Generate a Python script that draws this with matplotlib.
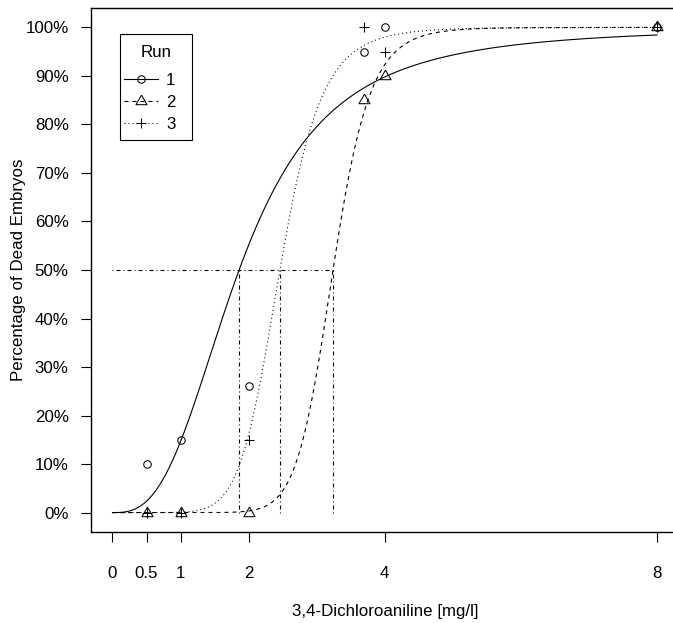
import numpy as np
import matplotlib
matplotlib.use("Agg")
import matplotlib.pyplot as plt
from matplotlib.lines import Line2D
from matplotlib.patches import Rectangle

plt.rcParams['font.family'] = ['Liberation Sans', 'DejaVu Sans']
plt.rcParams['lines.scale_dashes'] = False

# ---------------- data ----------------
conc = [0.5, 1, 2, 3.7, 4, 8]                 # mg/l
run_labels = ['1', '2', '3']
run1 = [10, 15, 26, 95, 100, 100]             # % dead embryos
run2 = [0, 0, 0, 85, 90, 100]
run3 = [0, 0, 15, 100, 95, 100]
# fitted log-logistic dose-response parameters per run
ec50 = [1.86, 3.24, 2.46]
slope = [2.84, 11.8, 8.0]
xticks = [0, 0.5, 1, 2, 4, 8]
xticklabels = ['0', '0.5', '1', '2', '4', '8']
yticks = [0, 10, 20, 30, 40, 50, 60, 70, 80, 90, 100]
yticklabels = [f'{v}%' for v in yticks]

# ---------------- figure ----------------
W, H = 673, 623
fig = plt.figure(figsize=(W / 100, H / 100), dpi=100)

def fx(px):
    return px / W

def fy(py):
    return 1 - py / H

ax_l, ax_r, ax_t, ax_b = 90.7, 678.8, 8.0, 532.0
ax = fig.add_axes([fx(ax_l), fy(ax_b), (ax_r - ax_l) / W, (ax_b - ax_t) / H])
ax.set_xlim(-0.32, 8.32)
ax.set_ylim(-4, 104)

k = 0.72  # px -> pt
dash = (0, (4 * k, 4 * k))
dot = (0, (1 * k, 3 * k))
dotdash = (0, (1 * k, 3 * k, 4 * k, 3 * k))
styles = ['-', dash, dot]

tri = [(0, 1.555), (-1.347, -0.778), (1.347, -0.778), (0, 1.555)]
markers = ['o', tri, '+']
msizes = [5.4, 9.2, 7.4]

lw = 0.8
xs = np.linspace(0, 8, 1601)
series = [run1, run2, run3]
handles = []
for i in range(3):
    b, e = slope[i], ec50[i]
    ys = 100 * xs ** b / (xs ** b + e ** b)
    ax.plot(xs, ys, color='k', lw=lw, linestyle=styles[i])
    ax.plot(conc, series[i], linestyle='none', marker=markers[i], ms=msizes[i],
            mfc='none', mec='k', mew=0.75)
    handles.append(Line2D([], [], color='k', lw=lw, linestyle=styles[i],
                          marker=markers[i], ms=msizes[i], mfc='none',
                          mec='k', mew=0.75))

# EC50 guide lines
ax.plot([0, max(ec50)], [50, 50], color='k', lw=lw, linestyle=dotdash)
for e in ec50:
    ax.plot([e, e], [0, 50], color='k', lw=lw, linestyle=dotdash)

# axes styling
for s in ax.spines.values():
    s.set_linewidth(1.0)
ax.spines['right'].set_visible(False)
ax.set_xticks(xticks)
ax.set_xticklabels(xticklabels)
ax.set_yticks(yticks)
ax.set_yticklabels(yticklabels)
fs = 12.2
ax.tick_params(axis='x', length=7.2, width=0.8, pad=17.0, labelsize=fs)
ax.tick_params(axis='y', length=7.2, width=0.8, pad=8.6, labelsize=fs)

ax.set_xlabel('3,4-Dichloroaniline [mg/l]', fontsize=fs)
ax.xaxis.set_label_coords(fx((ax_l + ax_r) / 2), fy(611.5), transform=fig.transFigure)
ax.xaxis.label.set_va('center')
ax.set_ylabel('Percentage of Dead Embryos', fontsize=fs)
ax.yaxis.set_label_coords(fx(18.5), fy((ax_t + ax_b) / 2), transform=fig.transFigure)
ax.yaxis.label.set_va('center')

# legend
fs_px = fs * 100 / 72
bp = 0.5
pad_px = bp * fs_px
extra = 6.0  # additional gap between legend title and entries (px)
leg = ax.legend(handles, run_labels, title='Run', fontsize=fs, title_fontsize=fs,
                loc='upper left',
                bbox_to_anchor=(fx(124 - pad_px), fy(45 + extra - pad_px)),
                bbox_transform=fig.transFigure, frameon=False, borderpad=bp,
                borderaxespad=0, handlelength=34 / fs_px, handletextpad=8 / fs_px,
                labelspacing=0.41, numpoints=1)
leg.get_title().set_x(6.5)
leg.get_title().set_y(extra)
fig.add_artist(Rectangle((fx(120), fy(140)), (192 - 120) / W, (140 - 34) / H,
                         transform=fig.transFigure, fill=False, ec='k', lw=0.8))

fig.savefig('out.png', dpi=100)
